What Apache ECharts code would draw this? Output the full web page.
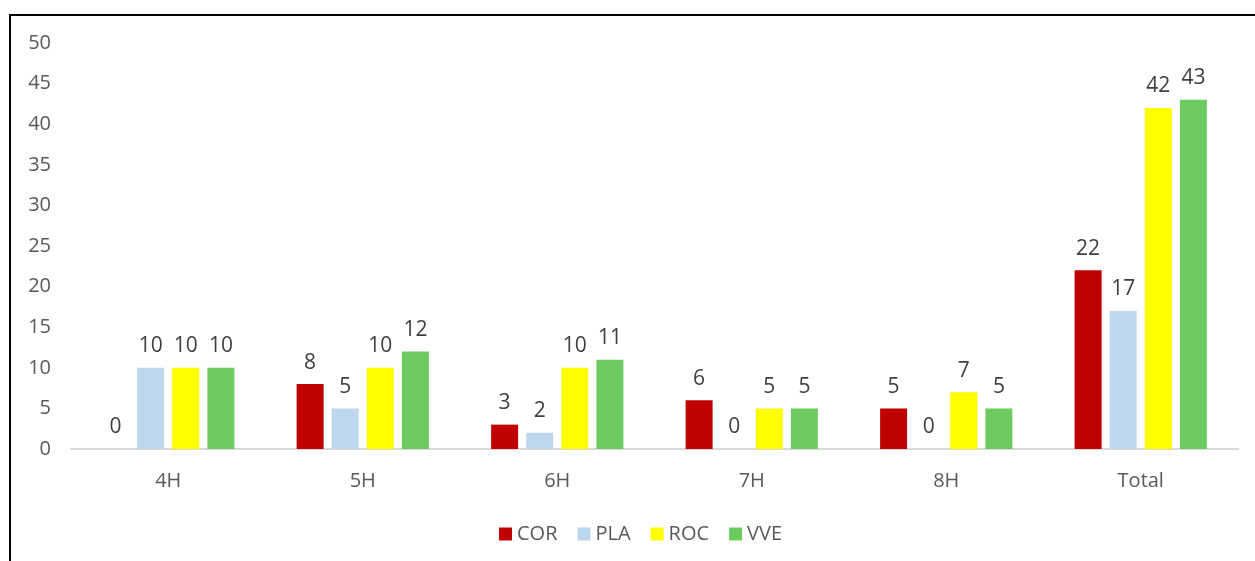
<!DOCTYPE html>
<html><head><meta charset="utf-8">
<script src="https://cdn.jsdelivr.net/npm/echarts@6/dist/echarts.min.js"></script>
<style>html,body{margin:0;padding:0;background:#fff;}
#frame{position:absolute;left:9px;top:14px;width:1250px;height:560px;border-top:2px solid #000;border-left:2px solid #000;box-sizing:border-box;}
#c{position:absolute;left:0;top:0;width:1255px;height:561px;}</style>
</head><body>
<div id="frame"></div>
<div id="c"></div>
<script>
const categories = ['4H','5H','6H','7H','8H','Total'];
const COR = [0,8,3,6,5,22];
const PLA = [10,5,2,0,0,17];
const ROC = [10,10,10,5,7,42];
const VVE = [10,12,11,5,5,43];
const yTicks = [0,5,10,15,20,25,30,35,40,45,50];
const names = ['COR','PLA','ROC','VVE'];
const colors = ['#C00000','#BDD7EE','#FFFF00','#6BCB5F'];
const font = '"Open Sans", "Liberation Sans", sans-serif';
const chart = echarts.init(document.getElementById('c'));
const data = [COR,PLA,ROC,VVE];
chart.setOption({
  animation:false,
  grid:{left:71,right:17,top:43,bottom:112,containLabel:false},
  legend:{bottom:12,left:494,itemWidth:13,itemHeight:13,itemGap:20,icon:'rect',
    textStyle:{color:'#595959',fontSize:20,fontFamily:font},data:names},
  xAxis:{type:'category',data:categories,axisTick:{show:false},
    axisLine:{lineStyle:{color:'#D9D9D9',width:2}},
    axisLabel:{color:'#595959',fontSize:20,fontFamily:font,margin:22}},
  yAxis:{type:'value',min:0,max:50,interval:5,splitLine:{show:false},axisLine:{show:false},axisTick:{show:false},
    axisLabel:{color:'#595959',fontSize:20,fontFamily:font,margin:20}},
  series:names.map((n,i)=>({name:n,type:'bar',data:data[i],itemStyle:{color:colors[i]},
    barGap:'30%',barCategoryGap:'32%',
    label:{show:true,position:'top',distance:11,color:'#404040',fontSize:21,fontFamily:font}}))
});
</script>
</body></html>
